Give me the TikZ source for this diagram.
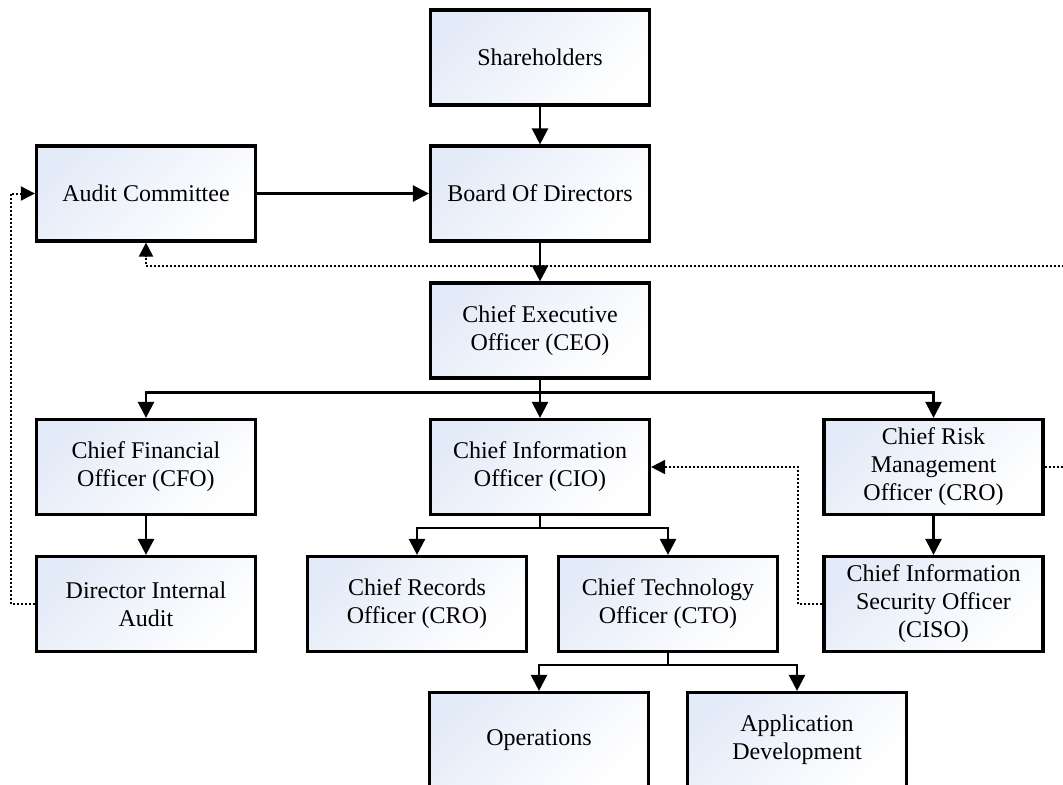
\documentclass[tikz,border=0pt]{standalone}
\usepackage{fontspec}
\setmainfont{Liberation Serif}
\usetikzlibrary{arrows.meta}
\definecolor{boxblue}{RGB}{228,235,248}

\begin{document}
\begin{tikzpicture}[x=0.5pt, y=-0.5pt,
        post/.style={draw, line width=1.6pt, minimum width=109.5pt, minimum height=47.5pt,
            inner sep=2pt, align=center, font=\fontsize{12}{14}\selectfont,
            top color=boxblue, bottom color=white, shading angle=45},
        link/.style={line width=1.2pt, -{Triangle[width=8pt,length=8pt]}},
        report/.style={line width=1pt, dash pattern=on 1pt off 1pt, -{Triangle[width=7pt,length=7pt]}}]
        \clip (0,0) rectangle (1063,784);

        % boxes
        \node[post] (share) at (540,57.5) {Shareholders};
        \node[post] (board) at (540,193.5) {Board Of Directors};
        \node[post] (audit) at (146,193.5) {Audit Committee};
        \node[post] (ceo) at (540,330.5) {Chief Executive\\Officer (CEO)};
        \node[post] (cfo) at (146,467) {Chief Financial\\Officer (CFO)};
        \node[post] (cio) at (540,467) {Chief Information\\Officer (CIO)};
        \node[post] (cro) at (933.5,467) {Chief Risk\\Management\\Officer (CRO)};
        \node[post] (dia) at (146,604) {Director Internal\\Audit};
        \node[post] (rec) at (417,604) {Chief Records\\Officer (CRO)};
        \node[post] (cto) at (668,604) {Chief Technology\\Officer (CTO)};
        \node[post] (ciso) at (933.5,604) {Chief Information\\Security Officer\\(CISO)};
        \node[post] (ops) at (539,740) {Operations};
        \node[post] (app) at (797,740) {Application\\Development};

        % reporting lines
        \draw[link] (share) -- (board);
        \draw[link] (audit) -- (board);
        \draw[link] (board) -- (ceo);
        \draw[link] (ceo) -- (cio);
        \draw[link] (ceo.south) -- ++(0,13) -| (cfo.north);
        \draw[link] (ceo.south) -- ++(0,13) -| (cro.north);
        \draw[link] (cfo) -- (dia);
        \draw[link] (cro) -- (ciso);
        \draw[link] (cio.south) -- ++(0,12) -| (rec.north);
        \draw[link] (cio.south) -- ++(0,12) -| (cto.north);
        \draw[link] (cto.south) -- ++(0,12) -| (ops.north);
        \draw[link] (cto.south) -- ++(0,12) -| (app.north);

        % dotted lines
        \coordinate (loop) at (1090,266);
        \draw[report] (dia.west) -- ++(-24,0) |- (audit.west);
        \draw[report] (ciso.west) -- ++(-24,0) |- (cio.east);
        \draw[report] (cro.east) -| (loop) -- (audit.south |- loop) -- (audit.south);
    \end{tikzpicture}
\end{document}
